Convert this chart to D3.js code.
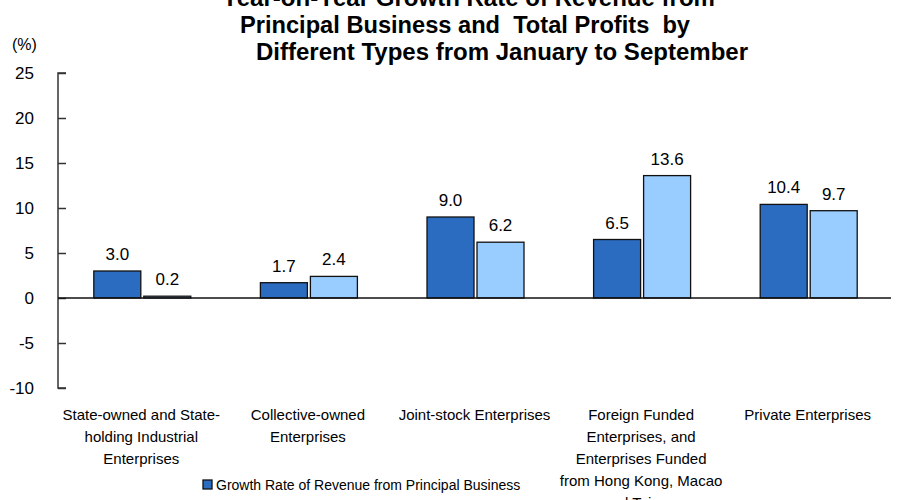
<!DOCTYPE html>
<html>
<head>
<meta charset="utf-8">
<script src="https://cdn.jsdelivr.net/npm/d3@7"></script>
<style>
  body { margin: 0; background: #fff; }
  svg { display: block; }
</style>
</head>
<body>
<script>
const categories = [
  ["State-owned and State-", "holding Industrial", "Enterprises"],
  ["Collective-owned", "Enterprises"],
  ["Joint-stock Enterprises"],
  ["Foreign Funded", "Enterprises, and", "Enterprises Funded", "from Hong Kong, Macao", "and Taiwan"],
  ["Private Enterprises"]
];
const revenueGrowth = [3.0, 1.7, 9.0, 6.5, 10.4];
const profitGrowth = [0.2, 2.4, 6.2, 13.6, 9.7];
const seriesNames = ["Growth Rate of Revenue from Principal Business", "Growth Rate of Total Profits"];
const yTicks = [-10, -5, 0, 5, 10, 15, 20, 25];
const titleLines = [
  "Year-on-Year Growth Rate of Revenue from",
  "Principal Business and  Total Profits  by",
  "Different Types from January to September"
];

const width = 900, height = 500;
const font = "'Liberation Sans Narrow', 'Arial Narrow', 'Liberation Sans', Arial, sans-serif";
const colors = ["#2b6cc0", "#99ccff"];

const svg = d3.select("body").append("svg")
  .attr("width", width)
  .attr("height", height)
  .attr("font-family", font);

const x = d3.scaleBand().domain(d3.range(categories.length)).range([58, 891]).paddingInner(0).paddingOuter(0);
const y = d3.scaleLinear().domain([-10, 25]).range([388, 73]);

// title, squeezed to the widths seen in the source
const titleX = [[222, 715], [240, 690], [256, 748]];
svg.append("g")
  .attr("font-weight", "bold")
  .attr("font-size", 23)
  .selectAll("text")
  .data(titleLines)
  .join("text")
  .attr("x", (d, i) => titleX[i][0])
  .attr("y", (d, i) => 6 + i * 27)
  .attr("textLength", (d, i) => titleX[i][1] - titleX[i][0])
  .attr("lengthAdjust", "spacingAndGlyphs")
  .attr("xml:space", "preserve")
  .text(d => d);

svg.append("text")
  .attr("x", 12).attr("y", 50)
  .attr("font-size", 16)
  .text("(%)");

// y axis
const yAxis = d3.axisRight(y).tickValues(yTicks).tickSize(8).tickFormat(d => String(d));
const ga = svg.append("g").attr("transform", "translate(58,0)").call(yAxis);
ga.select(".domain").attr("stroke", "#333").attr("stroke-width", 1.5).attr("d", `M8,${y(25)}H0V${y(-10)}H8`);
ga.selectAll(".tick line").attr("stroke", "#333").attr("stroke-width", 1.5);
ga.selectAll(".tick text")
  .attr("x", -24)
  .attr("text-anchor", "end")
  .attr("font-family", font)
  .attr("font-size", 17)
  .attr("fill", "#000");

// bars
const bw = 47, gap = 3;
const data = [];
categories.forEach((c, i) => {
  data.push({ i, s: 0, v: revenueGrowth[i] });
  data.push({ i, s: 1, v: profitGrowth[i] });
});
const barX = d => x(d.i) + x.bandwidth() / 2 + (d.s === 0 ? -bw - gap / 2 + 1 : gap / 2 + 1);

svg.append("g")
  .selectAll("rect")
  .data(data)
  .join("rect")
  .attr("x", barX)
  .attr("y", d => y(Math.max(0, d.v)))
  .attr("width", bw)
  .attr("height", d => Math.abs(y(d.v) - y(0)))
  .attr("fill", d => colors[d.s])
  .attr("stroke", "#111")
  .attr("stroke-width", 1.3);

svg.append("g")
  .attr("font-size", 17)
  .attr("text-anchor", "middle")
  .selectAll("text")
  .data(data)
  .join("text")
  .attr("x", d => barX(d) + bw / 2)
  .attr("y", d => y(d.v) - 11)
  .text(d => d.v.toFixed(1));

// zero line
svg.append("line")
  .attr("x1", 58).attr("x2", 891)
  .attr("y1", y(0)).attr("y2", y(0))
  .attr("stroke", "#111").attr("stroke-width", 1.5);

// category labels
const cat = svg.append("g").attr("font-size", 15).attr("text-anchor", "middle");
categories.forEach((lines, i) => {
  cat.append("text")
    .attr("x", x(i) + x.bandwidth() / 2)
    .selectAll("tspan")
    .data(lines)
    .join("tspan")
    .attr("x", x(i) + x.bandwidth() / 2)
    .attr("y", (d, k) => 420 + k * 22)
    .text(d => d);
});

// legend
const lg = svg.append("g").attr("transform", "translate(203,480)");
seriesNames.forEach((n, i) => {
  const row = lg.append("g").attr("transform", `translate(0,${i * 22})`);
  row.append("rect").attr("width", 9).attr("height", 9).attr("y", 0)
    .attr("fill", colors[i]).attr("stroke", "#111").attr("stroke-width", 1.3);
  row.append("text").attr("x", 13).attr("y", 10).attr("font-size", 14).text(n);
});
</script>
</body>
</html>
